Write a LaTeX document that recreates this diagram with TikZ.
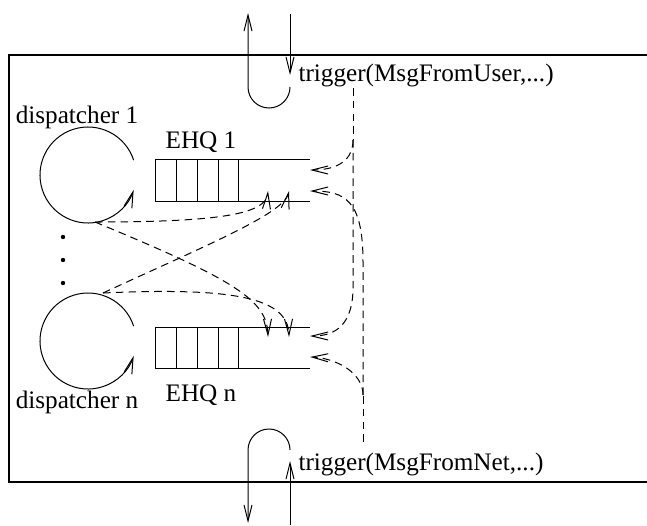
\documentclass[tikz,border=0pt]{standalone}
\usepackage{fontspec}
\setmainfont{Liberation Serif}
\usetikzlibrary{arrows.meta}

\begin{document}
\begin{tikzpicture}[x=0.5pt,y=-0.5pt,
  line width=0.5pt,
  tip/.style={-{Straight Barb[length=8pt,width=4pt]}},
  flow/.style={tip,dash pattern=on 3.8pt off 2.6pt},
  lbl/.style={inner sep=0pt,font=\fontsize{12.6}{14}\selectfont},
  cell/.style={line width=0.5pt}]
\useasboundingbox (0,0) rectangle (647,525);

% frame (its right edge lies beyond the page)
\draw[line width=0.6pt] (647,55) -- (9,55) -- (9,482) -- (647,482);

% dispatchers
\coordinate (d1c) at (88,175);
\coordinate (dnc) at (88,341);
\draw[tip] ([shift={(18:24pt)}]d1c) arc[start angle=18,end angle=342,radius=24pt];
\draw[tip] ([shift={(18:24pt)}]dnc) arc[start angle=18,end angle=342,radius=24pt];
\node[lbl] (dl1) at (77,117) {dispatcher 1};
\node[lbl] (dln) at (77,402) {dispatcher n};
\foreach \y/\n in {237/a,260/b,283/c}
  \fill (63,\y) coordinate (dot\n) circle[radius=1.1pt];

% event handler queues
\foreach \t/\b/\q in {159/201/1,327/368/n}{
  \draw[cell] (155,\t) rectangle (238,\b);
  \foreach \x in {176,197,218} \draw[cell] (\x,\t) -- (\x,\b);
  \draw[cell] (238,\t) -- (310,\t);
  \draw[cell] (238,\b) -- (310,\b);
}
\node[lbl] (q1) at (201,142) {EHQ 1};
\node[lbl] (qn) at (201,395) {EHQ n};

% attachment points
\coordinate (d1b) at (95,222);
\coordinate (dnt) at (103,293);
\coordinate (e1a) at (310,170);
\coordinate (e1b) at (310,191);
\coordinate (ena) at (310,336);
\coordinate (enb) at (310,357);
\coordinate (e1u1) at (268,191);
\coordinate (e1u2) at (289,191);
\coordinate (end1) at (268,337);
\coordinate (end2) at (289,337);

% dispatcher to queue insertions
\draw[flow] (d1b) .. controls (220,222) and (266,214) .. (e1u1);
\draw[flow] (dnt) .. controls (200,248) and (284,214) .. (e1u2);
\draw[flow] (d1b) .. controls (235,280) and (267,300) .. (end1);
\draw[flow] (dnt) .. controls (235,287) and (288,298) .. (end2);

% incoming user and network messages
\node[lbl,anchor=west] (tu) at (298,75) {trigger(MsgFromUser,...)};
\node[lbl,anchor=west] (tn) at (298,464) {trigger(MsgFromNet,...)};
\coordinate (us) at (353,88);
\coordinate (ub) at (353,140);
\coordinate (ns) at (363,442);
\coordinate (nb) at (363,395);
\draw[dash pattern=on 3.8pt off 2.6pt] (us) -- (ub);
\draw[flow] (ub) .. controls (353,165) and (330,170) .. (e1a);
\draw[flow] (ub) -- (353,290) .. controls (352,330) and (330,336) .. (ena);
\draw[dash pattern=on 3.8pt off 2.6pt] (ns) -- (nb);
\draw[flow] (nb) .. controls (363,372) and (335,358) .. (enb);
\draw[flow] (nb) -- (363,262) .. controls (363,200) and (345,191) .. (e1b);

% user interface loop (top)
\coordinate (ut1) at (248,13);
\coordinate (ut2) at (290,14);
\coordinate (ut3) at (290,75);
\draw[tip] (ut2) -- (ut3);
\draw[tip] (290,87) arc[start angle=0,end angle=-180,radius=10.5pt] -- (ut1);

% network interface loop (bottom)
\coordinate (nt1) at (248,523);
\coordinate (nt2) at (290,525);
\coordinate (nt3) at (290,461);
\draw[tip] (nt2) -- (nt3);
\draw[tip] (290,450) arc[start angle=0,end angle=180,radius=10.5pt] -- (nt1);
\end{tikzpicture}
\end{document}
